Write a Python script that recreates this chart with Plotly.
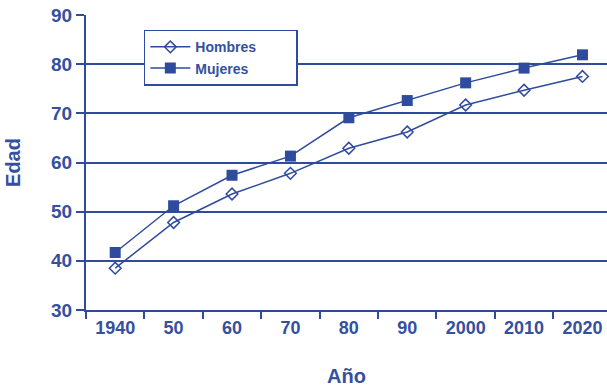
import plotly.graph_objects as go

# Life expectancy by decade
years = ["1940", "50", "60", "70", "80", "90", "2000", "2010", "2020"]
hombres = [38.5, 47.8, 53.6, 57.8, 62.9, 66.2, 71.7, 74.7, 77.5]
mujeres = [41.7, 51.2, 57.4, 61.3, 69.1, 72.6, 76.2, 79.2, 81.9]
series_names = ["Hombres", "Mujeres"]

y_ticks = [30, 40, 50, 60, 70, 80, 90]

BLUE = "#2f4b9e"
TEXT = "#34509f"
FONT = "Liberation Sans, Arial, sans-serif"
PAD = "\u00a0" * 9  # extra room on the right side of the legend box

fig = go.Figure()
fig.add_trace(go.Scatter(
    x=years, y=hombres, name=series_names[0] + PAD, mode="lines+markers",
    line=dict(color=BLUE, width=1.5),
    marker=dict(symbol="diamond-open", size=9, color=BLUE, line=dict(width=1.5, color=BLUE)),
))
fig.add_trace(go.Scatter(
    x=years, y=mujeres, name=series_names[1] + PAD, mode="lines+markers",
    line=dict(color=BLUE, width=1.5),
    marker=dict(symbol="square", size=11, color=BLUE),
))

fig.update_layout(
    width=607, height=388,
    margin=dict(l=86, r=0, t=15, b=78),
    paper_bgcolor="white", plot_bgcolor="white",
    font=dict(family=FONT, color=TEXT),
    showlegend=True,
    legend=dict(
        x=0.111, y=0.95, xanchor="left", yanchor="top",
        bgcolor="white", bordercolor=BLUE, borderwidth=1.5,
        font=dict(size=14, family=FONT, color=TEXT, weight="bold"),
        tracegroupgap=0, itemwidth=40,
    ),
)

fig.update_xaxes(
    type="category", range=[-0.5, 8.42],
    tickson="boundaries", ticks="outside", ticklen=7, tickwidth=2, tickcolor=BLUE,
    showline=True, linecolor=BLUE, linewidth=2,
    showgrid=False, zeroline=False,
    tickfont=dict(size=18, family=FONT, color=TEXT, weight="bold"),
    title=dict(text="Año", font=dict(size=20, family=FONT, color=TEXT, weight="bold"), standoff=32),
)
fig.update_yaxes(
    range=[30, 90], tickvals=y_ticks,
    ticks="outside", ticklen=8, tickwidth=1.5, tickcolor=BLUE,
    showline=True, linecolor=BLUE, linewidth=2,
    showgrid=True, gridcolor=BLUE, gridwidth=1.5, zeroline=False,
    tickfont=dict(size=19, family=FONT, color=TEXT, weight="bold"),
    title=dict(text="Edad", font=dict(size=20, family=FONT, color=TEXT, weight="bold"), standoff=25),
)

fig.write_html("out.html")
